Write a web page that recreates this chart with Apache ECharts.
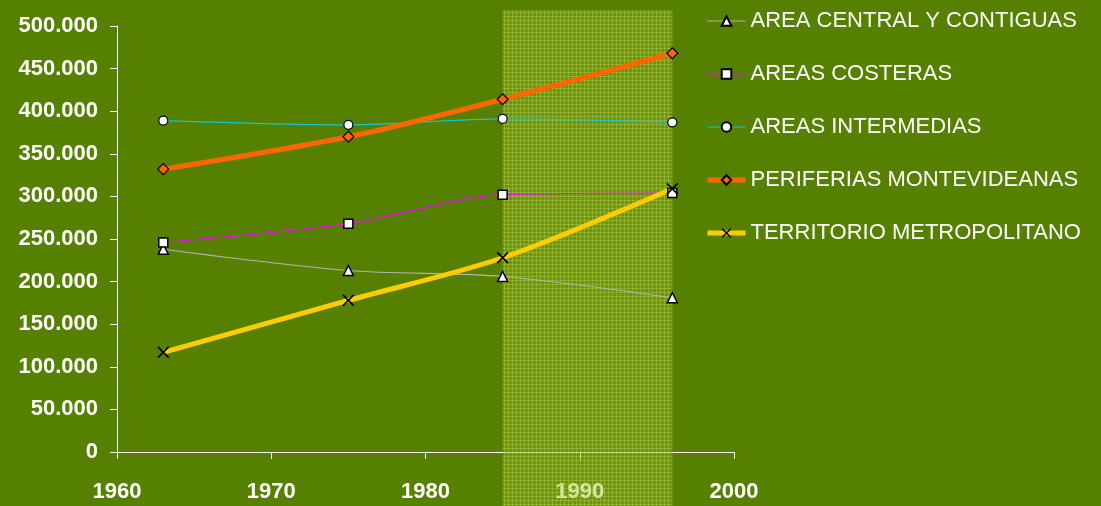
<!DOCTYPE html>
<html>
<head>
<meta charset="utf-8">
<script src="https://cdn.jsdelivr.net/npm/echarts@6/dist/echarts.min.js"></script>
<style>html,body{margin:0;padding:0;background:#568000;}#c{width:1101px;height:506px;}</style>
</head>
<body>
<div id="c"></div>
<script>
const years = [1963, 1975, 1985, 1996];
const seriesNames = ['AREA CENTRAL Y CONTIGUAS', 'AREAS COSTERAS', 'AREAS INTERMEDIAS', 'PERIFERIAS MONTEVIDEANAS', 'TERRITORIO METROPOLITANO'];
const areaCentral = [238000, 213000, 206000, 181000];
const areasCosteras = [246000, 268000, 302000, 304000];
const areasIntermedias = [389000, 384000, 391000, 387000];
const periferias = [332000, 370000, 414000, 468000];
const territorio = [117000, 178000, 228000, 309000];
const xTicks = [1960, 1970, 1980, 1990, 2000];
const yTicks = [0, 50000, 100000, 150000, 200000, 250000, 300000, 350000, 400000, 450000, 500000];
const shadedRange = [1985, 1996];

const FONT = '"Liberation Sans", Arial, sans-serif';
const pair = (arr) => years.map((y, i) => [y, arr[i]]);
const fmt = (v) => v === 0 ? '0' : String(v).replace(/\B(?=(\d{3})+(?!\d))/g, '.');

// pattern for shaded area
const pc = document.createElement('canvas');
pc.width = 4; pc.height = 4;
const pctx = pc.getContext('2d');
pctx.fillStyle = 'rgba(160,185,40,0.35)'; pctx.fillRect(0, 0, 4, 4);
pctx.clearRect(0, 0, 4, 1); pctx.clearRect(0, 0, 1, 4);
pctx.fillStyle = 'rgba(175,200,70,0.6)'; pctx.fillRect(0, 0, 4, 1); pctx.fillRect(0, 0, 1, 4);
pctx.clearRect(0, 0, 1, 1);
pctx.fillStyle = 'rgba(190,210,90,0.75)'; pctx.fillRect(0, 0, 1, 1);

const crossPath = 'path://M0,1 L1,0 L5,4 L9,0 L10,1 L6,5 L10,9 L9,10 L5,6 L1,10 L0,9 L4,5 Z';
const legendWidths = [1.2, 1.2, 1.2, 5, 5];

const chart = echarts.init(document.getElementById('c'), null, {renderer: 'canvas'});
const option = {
  backgroundColor: '#568000',
  animation: false,
  textStyle: {fontFamily: FONT},
  grid: {left: 117, right: 367, top: 26, bottom: 54, containLabel: false},
  legend: {
    orient: 'vertical', left: 700, top: 5, itemWidth: 38, itemHeight: 12, itemGap: 31,
    textStyle: {color: '#ffffff', fontSize: 22, fontFamily: FONT},
    data: seriesNames.map((n, i) => ({name: n, lineStyle: {width: legendWidths[i]}}))
  },
  xAxis: {
    type: 'value', min: xTicks[0], max: xTicks[xTicks.length - 1], interval: 10,
    axisLine: {lineStyle: {color: '#ffffff', width: 1}},
    axisTick: {show: true, length: 7, lineStyle: {color: '#ffffff'}},
    splitLine: {show: false},
    axisLabel: {color: '#ffffff', fontSize: 22, fontWeight: 'bold', margin: 29, fontFamily: FONT, formatter: (v) => String(v)}
  },
  yAxis: {
    type: 'value', min: yTicks[0], max: yTicks[yTicks.length - 1], interval: 50000,
    axisLine: {show: true, lineStyle: {color: '#ffffff', width: 1}},
    axisTick: {show: true, length: 7, lineStyle: {color: '#ffffff'}},
    splitLine: {show: false},
    axisLabel: {color: '#ffffff', fontSize: 22, fontWeight: 'bold', margin: 19, formatter: fmt, fontFamily: FONT}
  },
  series: [
    {name: seriesNames[0], type: 'line', data: pair(areaCentral), smooth: 0.3, z: 3,
      symbol: 'triangle', symbolSize: 10,
      lineStyle: {color: '#b4b4b4', width: 1.2},
      itemStyle: {color: '#ffffff', borderColor: '#000000', borderWidth: 1.5}},
    {name: seriesNames[1], type: 'line', data: pair(areasCosteras), smooth: 0.3, z: 3,
      symbol: 'rect', symbolSize: 9,
      lineStyle: {color: '#ff00ff', width: 1.2},
      itemStyle: {color: '#ffffff', borderColor: '#000000', borderWidth: 1.5}},
    {name: seriesNames[2], type: 'line', data: pair(areasIntermedias), smooth: 0.3, z: 3,
      symbol: 'circle', symbolSize: 9,
      lineStyle: {color: '#10c8d0', width: 1.2},
      itemStyle: {color: '#ffffff', borderColor: '#000000', borderWidth: 1.2}},
    {name: seriesNames[3], type: 'line', data: pair(periferias), smooth: 0.3, z: 3,
      symbol: 'diamond', symbolSize: 11,
      lineStyle: {color: '#ff6600', width: 5},
      itemStyle: {color: '#ff6600', borderColor: '#000000', borderWidth: 1.2}},
    {name: seriesNames[4], type: 'line', data: pair(territorio), smooth: 0.3, z: 3,
      symbol: crossPath, symbolSize: 12,
      lineStyle: {color: '#ffcc00', width: 5},
      itemStyle: {color: '#000000'}}
  ]
};
chart.setOption(option);

const x0 = chart.convertToPixel({xAxisIndex: 0}, shadedRange[0]);
const x1 = chart.convertToPixel({xAxisIndex: 0}, shadedRange[1]);
chart.setOption({
  graphic: [{
    type: 'rect', z: 1, silent: true,
    shape: {x: x0, y: 10, width: x1 - x0, height: 506 - 10},
    style: {fill: {image: pc, repeat: 'repeat'}}
  }]
});
</script>
</body>
</html>
